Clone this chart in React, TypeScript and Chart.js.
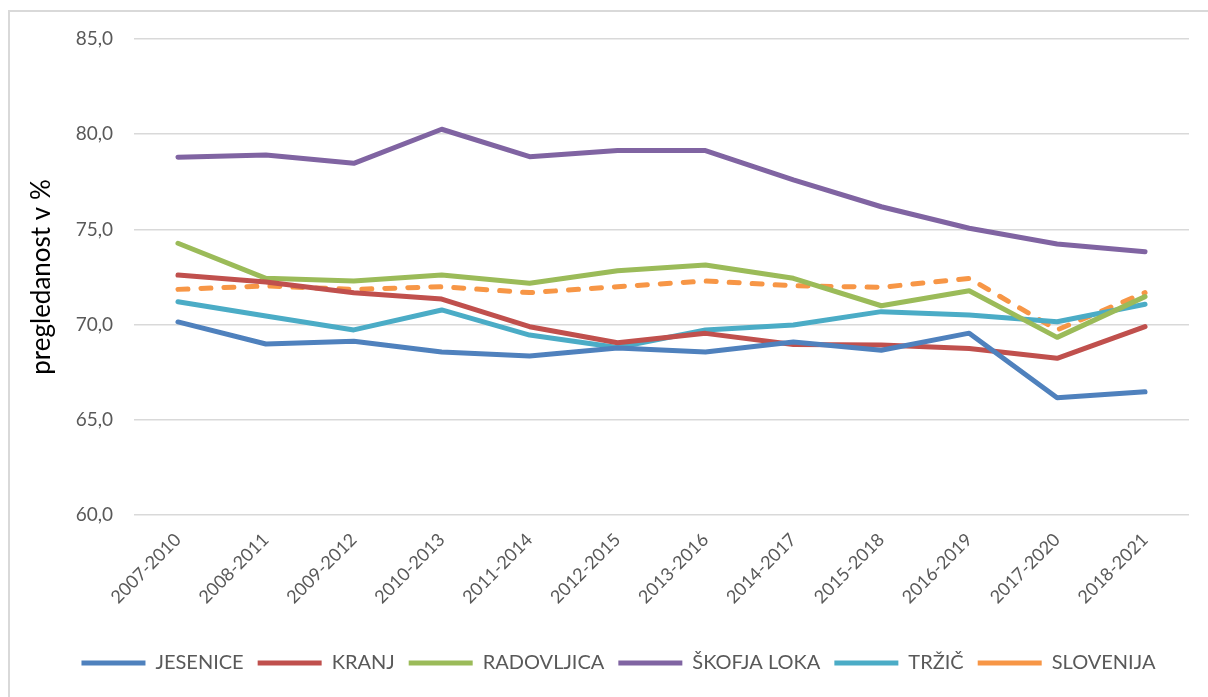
import React, { useEffect, useRef } from "react";
import { Chart, registerables } from "chart.js";

Chart.register(...registerables);

const categories = [
  "2007-2010", "2008-2011", "2009-2012", "2010-2013", "2011-2014", "2012-2015",
  "2013-2016", "2014-2017", "2015-2018", "2016-2019", "2017-2020", "2018-2021",
];

const jesenice = [70.14, 68.98, 69.12, 68.56, 68.35, 68.77, 68.56, 69.09, 68.65, 69.55, 66.16, 66.47];
const kranj = [72.6, 72.24, 71.67, 71.34, 69.89, 69.05, 69.54, 68.96, 68.93, 68.75, 68.23, 69.89];
const radovljica = [74.27, 72.43, 72.29, 72.6, 72.17, 72.83, 73.13, 72.43, 70.99, 71.78, 69.33, 71.47];
const skofjaLoka = [78.79, 78.91, 78.47, 80.26, 78.82, 79.14, 79.14, 77.6, 76.19, 75.06, 74.23, 73.83];
const trzic = [71.2, 70.45, 69.72, 70.77, 69.45, 68.8, 69.72, 69.98, 70.68, 70.5, 70.15, 71.07];
const slovenija = [71.85, 72.03, 71.85, 71.99, 71.68, 71.99, 72.29, 72.04, 71.96, 72.43, 69.72, 71.68];

const yTicks = [60, 65, 70, 75, 80, 85];

const FONT = "Lato, 'Noto Sans', sans-serif";

const legendShift = {
  id: "legendShift",
  afterLayout(chart: any) {
    const lg = chart.legend;
    if (lg) {
      lg.left += 24;
      lg.right += 24;
    }
  },
};

export default function App() {
  const ref = useRef<HTMLCanvasElement | null>(null);

  useEffect(() => {
    if (!ref.current) return;
    const mk = (label: string, data: number[], color: string, dash: number[] = []) => ({
      label,
      data,
      borderColor: color,
      backgroundColor: color,
      borderWidth: 5,
      borderDash: dash,
      borderCapStyle: "round" as const,
      borderJoinStyle: "round" as const,
      pointRadius: 0,
      pointHoverRadius: 0,
      tension: 0,
      fill: false,
    });
    const chart = new Chart(ref.current, {
      type: "line",
      data: {
        labels: categories,
        datasets: [
          mk("JESENICE", jesenice, "#4f81bd"),
          mk("KRANJ", kranj, "#c0504d"),
          mk("RADOVLJICA", radovljica, "#9bbb59"),
          mk("ŠKOFJA LOKA", skofjaLoka, "#8064a2"),
          mk("TRŽIČ", trzic, "#4bacc6"),
          mk("SLOVENIJA", slovenija, "#f79646", [10, 13]),
        ],
      },
      plugins: [legendShift],
      options: {
        animation: false,
        responsive: false,
        maintainAspectRatio: false,
        layout: { padding: { left: 0, right: 19, top: 39, bottom: 14 } },
        plugins: {
          tooltip: { enabled: false },
          legend: {
            display: true,
            position: "bottom",
            labels: {
              usePointStyle: true,
              pointStyle: "line",
              pointStyleWidth: 64,
              padding: 14,
              color: "#595959",
              font: { family: FONT, size: 20 },
            },
          },
        },
        scales: {
          x: {
            offset: true,
            grid: { display: false, drawTicks: false },
            border: { display: false },
            ticks: {
              color: "#595959",
              font: { family: FONT, size: 18 },
              minRotation: 45,
              maxRotation: 45,
              padding: 14,
              autoSkip: false,
            },
            afterFit: (s: any) => {
              s.height = 124;
            },
          },
          y: {
            min: 60,
            max: 85,
            grid: { color: "#d9d9d9", lineWidth: 1.5, drawTicks: false },
            border: { display: false },
            afterBuildTicks: (s: any) => {
              s.ticks = yTicks.map((v) => ({ value: v }));
            },
            afterFit: (s: any) => {
              s.width = 134;
            },
            ticks: {
              color: "#595959",
              font: { family: FONT, size: 19 },
              padding: 21,
              callback: (v: any) => Number(v).toFixed(1).replace(".", ","),
            },
            title: {
              display: true,
              text: "pregledanost v %",
              color: "#000000",
              font: { family: FONT, size: 26 },
              padding: { top: 26, bottom: 0 },
            },
          },
        },
      },
    });
    return () => chart.destroy();
  }, []);

  return (
    <>
      <div
        style={{
          position: "absolute",
          left: 8,
          top: 10,
          width: 1230,
          height: 720,
          border: "2px solid #d9d9d9",
          boxSizing: "border-box",
        }}
      />
      <div style={{ position: "absolute", left: 0, top: 0, width: 1208, height: 697 }}>
        <canvas ref={ref} width={1208} height={697} style={{ width: 1208, height: 697 }} />
      </div>
    </>
  );
}
